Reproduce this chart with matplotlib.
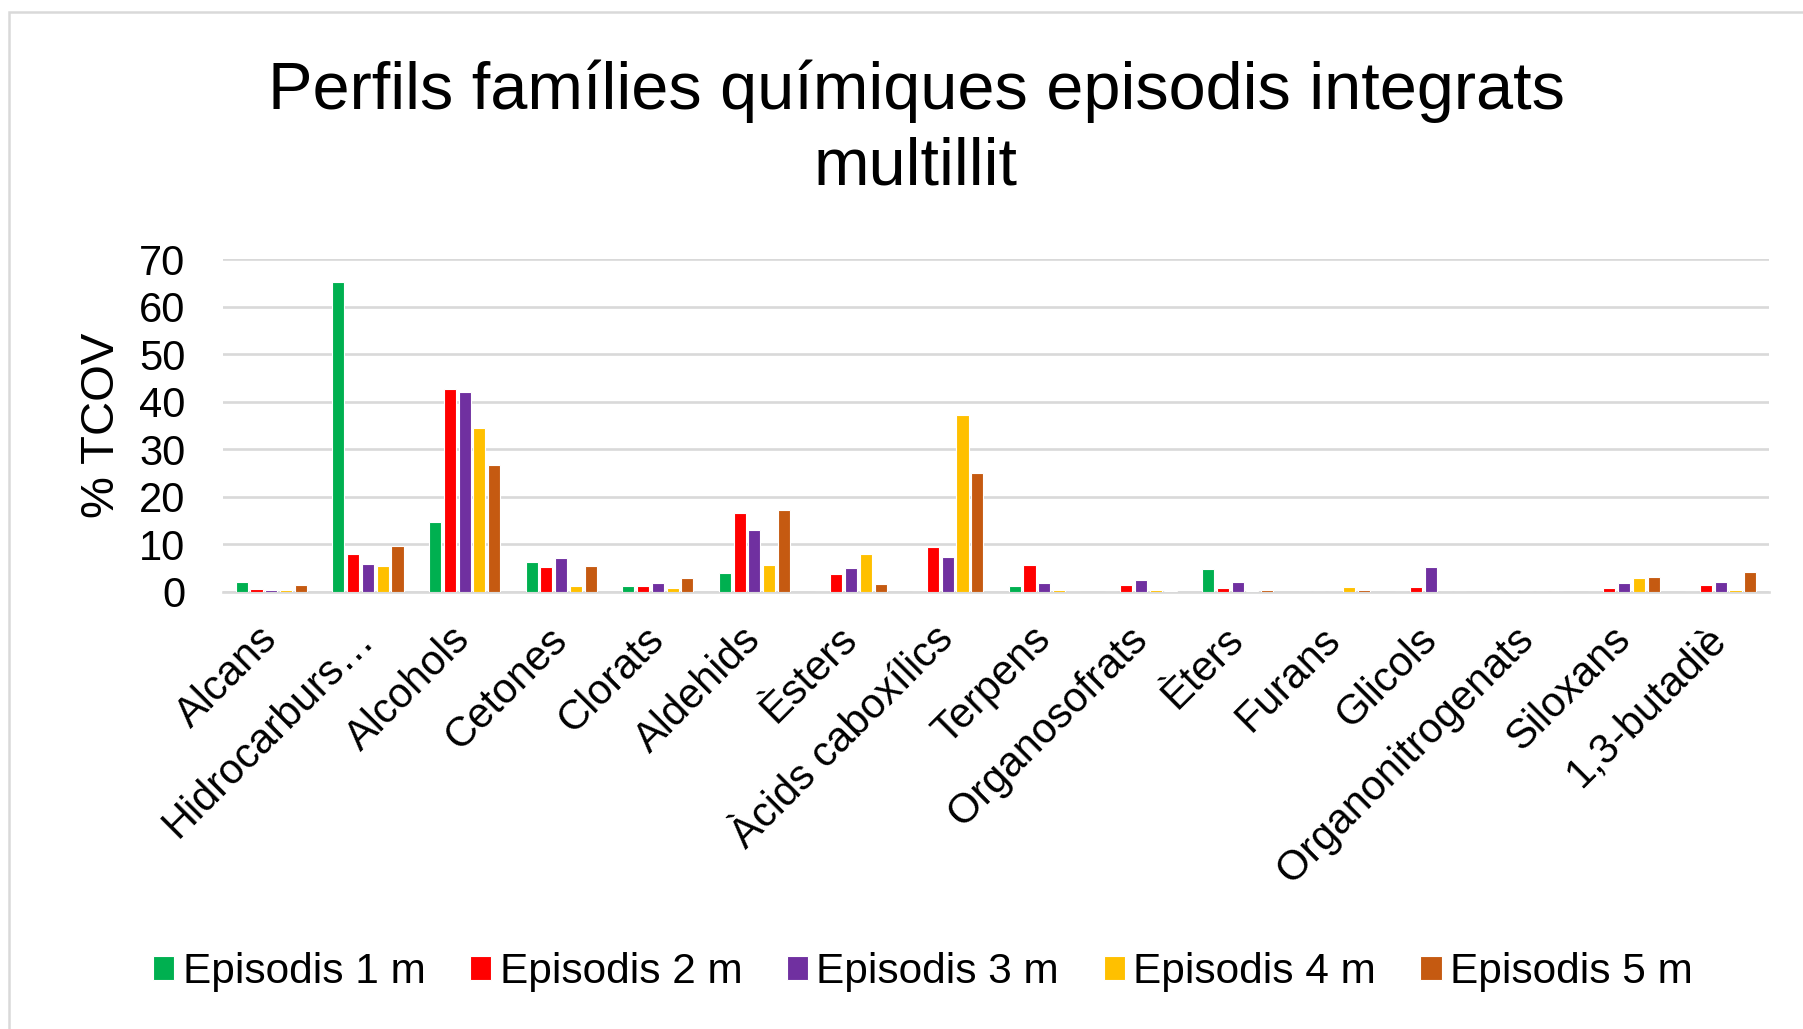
import numpy as np
import matplotlib
matplotlib.use("Agg")
import matplotlib.pyplot as plt
from matplotlib.patches import Rectangle

plt.rcParams['font.family'] = ['Liberation Sans', 'DejaVu Sans']

# -- dades ----------------------
categories = ['Alcans', 'Hidrocarburs…', 'Alcohols', 'Cetones', 'Clorats',
              'Aldehids', 'Èsters', 'Àcids caboxílics', 'Terpens',
              'Organosofrats', 'Èters', 'Furans', 'Glicols',
              'Organonitrogenats', 'Siloxans', '1,3-butadiè']

series_names = ['Episodis 1 m', 'Episodis 2 m', 'Episodis 3 m',
                'Episodis 4 m', 'Episodis 5 m']

ep1 = [2.0, 65.3, 14.6, 6.3, 1.1, 3.9, 0.0, 0.0, 1.1, 0.0, 4.8, 0.0, 0.0, 0.0, 0.0, 0.0]
ep2 = [0.6, 7.9, 42.7, 5.1, 1.3, 16.5, 3.7, 9.4, 5.6, 1.5, 0.8, 0.0, 0.9, 0.0, 0.8, 1.4]
ep3 = [0.35, 5.9, 42.0, 7.2, 1.9, 13.0, 5.0, 7.4, 1.9, 2.4, 2.1, 0.0, 5.3, 0.0, 1.9, 2.1]
ep4 = [0.35, 5.5, 34.4, 1.2, 0.8, 5.6, 7.9, 37.3, 0.35, 0.35, 0.2, 1.0, 0.0, 0.0, 2.9, 0.35]
ep5 = [1.5, 9.6, 26.6, 5.4, 2.9, 17.2, 1.6, 25.1, 0.0, 0.1, 0.4, 0.4, 0.0, 0.0, 3.2, 4.1]

colors = ['#00b050', '#ff0000', '#7030a0', '#ffc000', '#c55a11']

yticks = [0, 10, 20, 30, 40, 50, 60, 70]

# -- figura ----------------------
fig = plt.figure(figsize=(18.03, 10.29), dpi=100)
ax = fig.add_axes([223 / 1803, 1 - 591.7 / 1029, (1769 - 223) / 1803, (591.7 - 259.3) / 1029])

x = np.arange(len(categories))
pitch = 0.153
width = 0.125
for i, (vals, name, c) in enumerate(zip([ep1, ep2, ep3, ep4, ep5], series_names, colors)):
    ax.bar(x + (i - 2) * pitch, vals, width, color=c, edgecolor='white',
           linewidth=0.8, label=name, zorder=3)

ax.set_xlim(-0.5, len(categories) - 0.5)
ax.set_ylim(0, 70)
ax.set_yticks(yticks)
ax.set_yticklabels([str(t) for t in yticks], fontsize=30)
ax.yaxis.grid(True, color='#d9d9d9', linewidth=1.9, zorder=0)
ax.set_axisbelow(True)

ax.set_xticks(x)
ax.set_xticklabels(categories, fontsize=30, rotation=45, ha='right',
                   va='center', rotation_mode='anchor')
ax.tick_params(axis='both', length=0)
ax.tick_params(axis='x', pad=30)
ax.tick_params(axis='y', pad=27)

for s in ['top', 'right', 'left']:
    ax.spines[s].set_visible(False)
ax.spines['bottom'].set_color('#d9d9d9')
ax.spines['bottom'].set_linewidth(1.9)

fig.text(102 / 1803, 1 - 425 / 1029, '% TCOV', rotation=90, fontsize=34,
         ha='center', va='center')

fig.text(916 / 1803, 1 - 129 / 1029,
         'Perfils famílies químiques episodis integrats\nmultillit',
         fontsize=48, ha='center', va='center', linespacing=1.27)

fig.legend(loc='center', bbox_to_anchor=(923 / 1803, 1 - 972 / 1029), ncol=5,
           frameon=False, fontsize=30.5, handlelength=0.5, handleheight=0.5,
           handletextpad=0.2, columnspacing=1.05, borderaxespad=0)

# borde de l'àrea del gràfic
fig.patches.append(Rectangle((9 / 1803, -0.05), 1.2, 1 - 12 / 1029 + 0.05,
                             transform=fig.transFigure, fill=False,
                             edgecolor='#d9d9d9', linewidth=1.8))

fig.savefig('out.png', dpi=100, facecolor='white')
